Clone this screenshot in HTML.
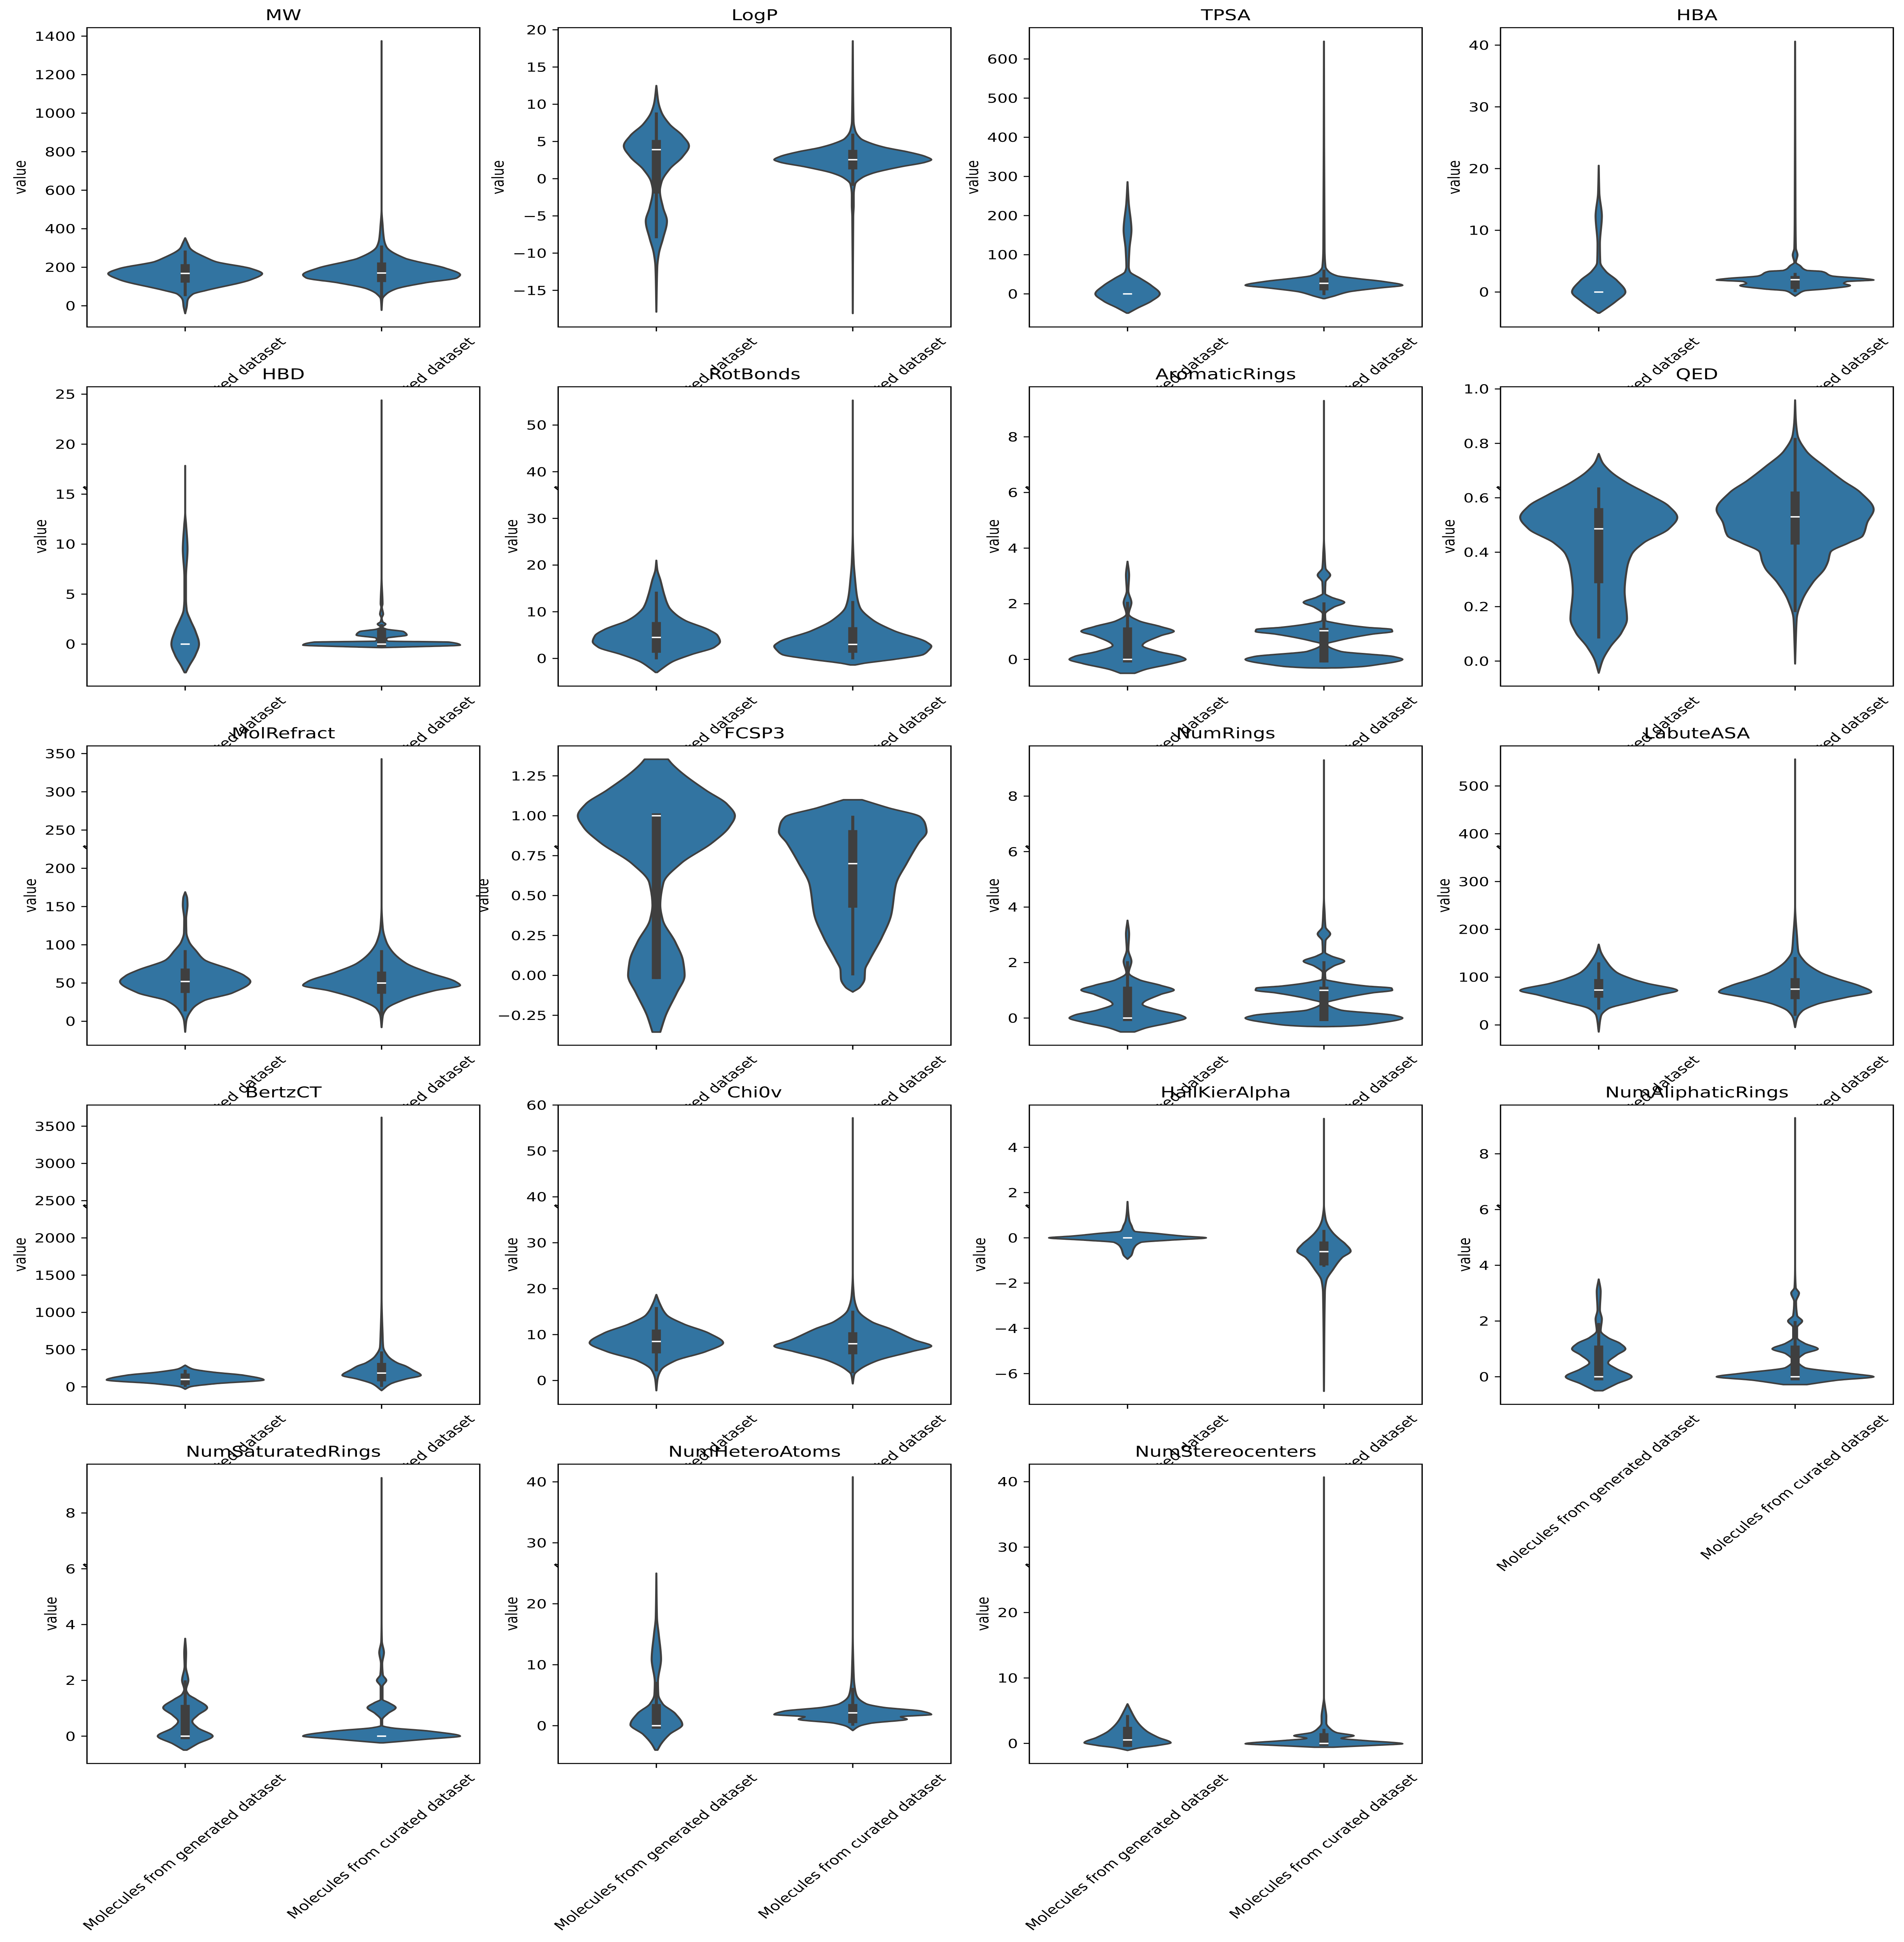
<!DOCTYPE html>
<html lang="en">
<head>
<meta charset="utf-8">
<title>Molecular property violin plots</title>
<style>
html,body{margin:0;padding:0;background:#fff;width:100%;height:100%;overflow:hidden;}
svg{display:block;width:100vw;height:100vh;}
text{font-family:"DejaVu Sans","Liberation Sans",sans-serif;fill:#000;}
</style>
</head>
<body>
<svg id="chart" xmlns="http://www.w3.org/2000/svg" viewBox="0 0 4903 6462" preserveAspectRatio="none">
<rect x="0" y="0" width="4903" height="6462" fill="#ffffff"/>
</svg>
<script>
const categories = ['Molecules from generated dataset', 'Molecules from curated dataset'];
const panelTitles = ['MW','LogP','TPSA','HBA','HBD','RotBonds','AromaticRings','QED','MolRefract','FCSP3','NumRings','LabuteASA','BertzCT','Chi0v','HallKierAlpha','NumAliphaticRings','NumSaturatedRings','NumHeteroAtoms','NumStereocenters'];

/* y-axis limits */
const mwLimits=[-110,1444], logpLimits=[-19.92,20.29], tpsaLimits=[-84.5,680], hbaLimits=[-5.66,42.83], hbdLimits=[-4.2,25.74], rotLimits=[-5.93,58.2], aroLimits=[-0.96,9.8], qedLimits=[-0.092,1.008], mrLimits=[-31.3,360], fcspLimits=[-0.4375,1.4375], ringLimits=[-0.98,9.81], asaLimits=[-42.4,583.8], bertzLimits=[-235,3784], chiLimits=[-5.2,60], hkaLimits=[-7.36,5.87], aliLimits=[-0.99,9.75], satLimits=[-0.98,9.75], hetLimits=[-6.2,42.9], sterLimits=[-3.07,42.68];

/* y-axis ticks */
const mwTicks=[0,200,400,600,800,1000,1200,1400];
const logpTicks=[-15,-10,-5,0,5,10,15,20];
const tpsaTicks=[0,100,200,300,400,500,600];
const hbaTicks=[0,10,20,30,40];
const hbdTicks=[0,5,10,15,20,25];
const rotTicks=[0,10,20,30,40,50];
const aroTicks=[0,2,4,6,8];
const qedTicks=[0,0.2,0.4,0.6,0.8,1];
const mrTicks=[0,50,100,150,200,250,300,350];
const fcspTicks=[-0.25,0,0.25,0.5,0.75,1,1.25];
const ringTicks=[0,2,4,6,8];
const asaTicks=[0,100,200,300,400,500];
const bertzTicks=[0,500,1000,1500,2000,2500,3000,3500];
const chiTicks=[0,10,20,30,40,50,60];
const hkaTicks=[-6,-4,-2,0,2,4];
const aliTicks=[0,2,4,6,8];
const satTicks=[0,2,4,6,8];
const hetTicks=[0,10,20,30,40];
const sterTicks=[0,10,20,30,40];
const tickDecimals=[0,0,0,0,0,0,0,1,0,2,0,0,0,0,0,0,0,0,0];

/* violin profiles: [value, relative density] */
const mwGen=[[352,0],[326,.03],[300,.06],[242,.31],[229,.39],[193,.84],[167,.98],[136,.84],[80,.27],[61,.1],[28,.03],[-4,.02],[-40,0]];
const mwCur=[[1375,0],[500,0],[424,.012],[346,.03],[307,.06],[245,.31],[232,.43],[197,.8],[161,1],[145,.96],[119,.55],[87,.18],[61,.06],[35,.01],[-23,0]];
const logpGen=[[12.5,0],[10.3,.025],[8.9,.066],[7.3,.17],[5.8,.33],[4.4,.415],[2.9,.33],[1.3,.17],[-.44,.066],[-1.6,.045],[-3.9,.086],[-5.7,.135],[-8,.086],[-10,.033],[-11.8,.012],[-17.9,0]];
const logpCur=[[18.5,0],[7.7,.01],[6.5,.03],[5.4,.1],[4.8,.22],[4.2,.41],[3.6,.7],[3,.92],[2.55,1],[2.2,.92],[1.6,.61],[.72,.25],[.14,.12],[-.73,.03],[-2.2,.012],[-3.6,.012],[-5.1,.006],[-18.1,0]];
const tpsaGen=[[286,0],[233,.015],[163,.05],[116,.025],[69,.015],[57,.03],[40,.16],[22,.3],[0,.41],[-19,.3],[-36,.13],[-49,.01]];
const tpsaCur=[[645,0],[116,.008],[69,.02],[57,.06],[46,.17],[39,.43],[32,.74],[22,1],[15,.7],[5,.31],[-6,.12],[-12,.01]];
const hbaGen=[[20.5,0],[16,.008],[12.3,.04],[7.8,.015],[4.8,.02],[3.35,.09],[1.9,.23],[0,.34],[-1.5,.22],[-2.8,.08],[-3.4,.01]];
const hbaCur=[[40.6,0],[12.3,.005],[7.1,.01],[6,.03],[4.8,.01],[4.3,.06],[3.5,.15],[3.35,.33],[2.6,.47],[2.15,.9],[1.95,1],[1.7,.66],[1.4,.62],[1.05,.7],[.5,.39],[.2,.12],[-.4,.03],[-.65,0]];
const hbdGen=[[17.85,0],[13.2,0],[11.9,.012],[9.5,.03],[6.7,.01],[4.5,.01],[3.4,.02],[2.35,.07],[1.3,.13],[0,.176],[-1.1,.13],[-2.2,.05],[-2.85,.008]];
const hbdCur=[[24.4,0],[6.7,0],[4,.012],[3.7,.004],[3,.02],[2.6,.002],[2.25,.012],[2,.05],[1.7,.012],[1.5,.06],[1.25,.28],[.9,.32],[.6,.07],[.44,.06],[.3,.08],[.2,.86],[-.1,1],[-.3,.25],[-.35,0]];
const rotGen=[[21,0],[19,.012],[16.9,.05],[13.7,.1],[11,.16],[9.4,.25],[8.1,.37],[6.2,.66],[4.9,.78],[3.6,.81],[2.4,.74],[.85,.45],[-.75,.2],[-2.1,.08],[-3,.01]];
const rotCur=[[55.3,0],[27.6,0],[20.6,.012],[16.9,.03],[13.7,.05],[11,.09],[8.3,.25],[5.9,.53],[3.5,.94],[2.6,1],[1.65,.96],[.85,.9],[-.2,.53],[-1,.16],[-1.4,.03]];
const aroGen=[[3.52,0],[3.03,.02],[2.46,.01],[2.04,.05],[1.63,.015],[1.38,.15],[1.18,.42],[1.01,.59],[.85,.42],[.5,.19],[.29,.38],[.1,.68],[0,.74],[-.15,.57],[-.36,.23],[-.5,.09]];
const aroCur=[[9.3,0],[4.35,0],[3.85,.008],[3.28,.02],[3.03,.08],[2.78,.02],[2.37,.015],[2.24,.09],[2.05,.26],[1.87,.12],[1.63,.015],[1.4,.02],[1.3,.16],[1.15,.55],[1.08,.86],[1,.87],[.91,.62],[.66,.16],[.55,.03],[.29,.21],[.1,.89],[0,1],[-.19,.68],[-.3,.23],[-.31,.01]];
const qedGen=[[.762,0],[.731,.045],[.697,.15],[.655,.36],[.612,.64],[.57,.89],[.528,1],[.485,.89],[.434,.57],[.392,.42],[.341,.36],[.257,.33],[.155,.36],[.104,.29],[.053,.15],[.003,.05],[-.044,0]];
const qedCur=[[.959,0],[.892,.008],[.832,.03],[.773,.14],[.714,.38],[.663,.61],[.62,.83],[.557,1],[.51,.92],[.46,.86],[.434,.68],[.4,.45],[.367,.42],[.341,.38],[.29,.23],[.223,.09],[.155,.02],[.087,.01],[-.01,0]];
const mrGen=[[169,0],[161,.025],[152,.03],[134,.012],[116,.015],[104,.05],[92,.14],[80.7,.24],[67,.6],[60,.75],[52,.83],[37,.6],[27,.24],[16,.09],[1,.015],[-14,0]];
const mrCur=[[343,0],[152,0],[122,.015],[104,.06],[92,.13],[76,.31],[64,.59],[52,.94],[47,1],[40,.67],[28,.28],[16,.06],[7,.015],[-8,0]];
const fcspGen=[[1.354,.15],[1.33,.19],[1.275,.31],[1.16,.63],[1.073,.9],[1,1],[.93,.93],[.83,.71],[.7,.31],[.58,.09],[.44,.05],[.35,.08],[.21,.24],[.09,.34],[0,.36],[-.11,.26],[-.25,.12],[-.355,.05]];
const fcspCur=[[1.1,.12],[1.05,.45],[.993,.86],[.952,.92],[.9,.94],[.83,.84],[.7,.685],[.57,.55],[.38,.49],[.237,.37],[.092,.21],[.035,.157],[-.023,.15],[-.075,.09],[-.104,0]];
const ringGen=[[3.52,0],[3.03,.02],[2.46,.01],[2.04,.05],[1.63,.015],[1.38,.15],[1.18,.42],[1.01,.59],[.85,.42],[.5,.19],[.29,.38],[.1,.68],[0,.74],[-.15,.57],[-.36,.23],[-.5,.09]];
const ringCur=[[9.3,0],[4.35,0],[3.85,.008],[3.28,.02],[3.03,.08],[2.78,.02],[2.37,.015],[2.24,.09],[2.05,.26],[1.87,.12],[1.63,.015],[1.4,.02],[1.3,.16],[1.15,.55],[1.08,.86],[1,.87],[.91,.62],[.66,.16],[.55,.03],[.29,.21],[.1,.89],[0,1],[-.19,.68],[-.3,.23],[-.31,.01]];
const asaGen=[[168.6,0],[154,.025],[135,.09],[111,.22],[96,.43],[87,.62],[72,1],[63,.78],[48,.43],[34,.12],[19,.03],[-14.5,0]];
const asaCur=[[556,0],[250,0],[183,.025],[154,.04],[135,.11],[111,.31],[96,.55],[82,.82],[69,.97],[58,.66],[43,.27],[29,.09],[14,.025],[-5,0]];
const bertzGen=[[290,0],[241,.09],[198,.35],[155,.75],[93,1],[43,.39],[0,.06],[-31,0]];
const bertzCur=[[3618,0],[1218,0],[724,.012],[538,.02],[414,.08],[322,.2],[278,.31],[229,.39],[155,.5],[105,.31],[43,.12],[-49,0]];
const chiGen=[[18.7,0],[16.9,.04],[14.3,.13],[12.3,.35],[10.3,.67],[8.2,.85],[6.3,.63],[4.3,.24],[2.3,.06],[.3,.015],[-2.2,0]];
const chiCur=[[57.2,0],[23.4,0],[18.4,.015],[15.4,.06],[12.8,.24],[11.3,.47],[8.8,.79],[7.5,1],[6.3,.75],[4.3,.31],[2.3,.08],[1.3,.02],[-.7,0]];
const hkaGen=[[1.6,0],[1.16,.008],[.75,.025],[.55,.05],[.29,.09],[.2,.35],[.08,.7],[0,1],[-.1,.55],[-.2,.17],[-.47,.08],[-.77,.05],[-.94,0]];
const hkaCur=[[5.27,0],[1.47,0],[.85,.02],[.55,.05],[.24,.11],[-.06,.2],[-.26,.27],[-.59,.34],[-.88,.23],[-1.38,.12],[-1.9,.03],[-2.4,.012],[-6.78,0]];
const aliGen=[[3.5,0],[3.06,.025],[2.4,.015],[2.07,.04],[1.65,.025],[1.4,.12],[1.2,.27],[1,.34],[.78,.23],[.5,.12],[.28,.23],[0,.42],[-.25,.23],[-.5,.05]];
const aliCur=[[9.29,0],[4,0],[3.2,.008],[3,.05],[2.7,.012],[2.2,.025],[2,.09],[1.77,.025],[1.4,.025],[1.2,.12],[1,.29],[.83,.12],[.58,.03],[.33,.12],[.12,.7],[0,1],[-.12,.55],[-.28,.15]];
const satGen=[[3.5,0],[2.98,.012],[2.5,.008],[2,.04],[1.67,.012],[1.5,.04],[1.32,.14],[1.02,.28],[.75,.16],[.53,.09],[.3,.16],[0,.35],[-.27,.16],[-.5,.02]];
const satCur=[[9.26,0],[4.2,0],[3.4,.004],[3,.03],[2.6,.008],[2.2,.016],[2,.06],[1.78,.012],[1.32,.012],[1.2,.09],[1.02,.18],[.81,.08],[.58,.008],[.38,.008],[.3,.12],[.18,.61],[0,1],[-.1,.61],[-.24,.02]];
const hetGen=[[25,0],[17.7,.008],[15,.03],[10.9,.06],[7.2,.02],[5.1,.025],[3.6,.08],[2,.24],[.16,.33],[-1.4,.17],[-3,.06],[-4,.015]];
const hetCur=[[40.8,0],[15,0],[9.8,.008],[7.5,.015],[5.9,.03],[4.9,.05],[3.6,.17],[3,.39],[2.4,.87],[1.83,1],[1.46,.61],[1.05,.69],[.42,.24],[-.1,.08],[-.78,0]];
const sterGen=[[6.03,0],[5.06,.04],[3.36,.12],[1.9,.24],[.92,.39],[.1,.55],[-.3,.39],[-.68,.15],[-1.07,0]];
const sterCur=[[40.7,0],[7,0],[5.55,.015],[4.1,.03],[3.1,.03],[2.14,.09],[1.65,.16],[1.17,.38],[.78,.22],[.44,.51],[-.05,1],[-.3,.63],[-.58,.12]];

/* inner box: [whisker low, q1, median, q3, whisker high] */
const mwGenBox=[50,120,168,216,287], mwCurBox=[40,123,170,225,313];
const logpGenBox=[-8,-2,3.9,5.2,8.9], logpCurBox=[-.97,1.25,2.55,3.87,6.05];
const tpsaGenBox=[0,0,0,0,0], tpsaCurBox=[-3,9,27,42,62];
const hbaGenBox=[0,0,0,0,0], hbaCurBox=[0,.5,2,2.6,3.1];
const hbdGenBox=[0,0,0,0,0], hbdCurBox=[-.28,-.28,0,1.6,2];
const rotGenBox=[-.2,1.2,4.5,7.8,14.3], rotCurBox=[-.2,1.2,3,6.7,12.3];
const aroGenBox=[-.11,-.11,0,1.15,2.07], aroCurBox=[-.11,-.11,1.03,1.13,2.05];
const qedGenBox=[.083,.286,.486,.562,.638], qedCurBox=[.18,.428,.53,.623,.82];
const mrGenBox=[13,37,52,69,93], mrCurBox=[7,36,50,65,93];
const fcspGenBox=[-.023,-.023,1,1.015,1.015], fcspCurBox=[0,.424,.7,.91,1];
const ringGenBox=[-.11,-.11,0,1.13,2.05], ringCurBox=[-.11,-.11,1,1.13,2.05];
const asaGenBox=[32,57,73,96,131], asaCurBox=[19,54,75,98,142];
const bertzGenBox=[0,25,99,179,229], bertzCurBox=[0,74,185,322,476];
const chiGenBox=[2,5.9,8.5,11.1,16], chiCurBox=[1.6,5.7,8,10.5,15.2];
const hkaGenBox=[0,0,0,0,0], hkaCurBox=[-1.28,-1.22,-.61,-.16,.35];
const aliGenBox=[-.13,-.13,0,1.12,1.93], aliCurBox=[-.13,-.13,0,1.12,2];
const satGenBox=[-.11,-.11,0,1.12,2], satCurBox=[0,0,0,0,0];
const hetGenBox=[-.5,-.5,0,3.56,7.2], hetCurBox=[0,.42,2.1,3.56,6.2];
const sterGenBox=[-.53,-.53,.53,2.53,4.33], sterCurBox=[-.39,-.39,0,1.56,2.24];

const panelLimits=[mwLimits,logpLimits,tpsaLimits,hbaLimits,hbdLimits,rotLimits,aroLimits,qedLimits,mrLimits,fcspLimits,ringLimits,asaLimits,bertzLimits,chiLimits,hkaLimits,aliLimits,satLimits,hetLimits,sterLimits];
const panelTicks=[mwTicks,logpTicks,tpsaTicks,hbaTicks,hbdTicks,rotTicks,aroTicks,qedTicks,mrTicks,fcspTicks,ringTicks,asaTicks,bertzTicks,chiTicks,hkaTicks,aliTicks,satTicks,hetTicks,sterTicks];
const panelViolins=[[mwGen,mwCur],[logpGen,logpCur],[tpsaGen,tpsaCur],[hbaGen,hbaCur],[hbdGen,hbdCur],[rotGen,rotCur],[aroGen,aroCur],[qedGen,qedCur],[mrGen,mrCur],[fcspGen,fcspCur],[ringGen,ringCur],[asaGen,asaCur],[bertzGen,bertzCur],[chiGen,chiCur],[hkaGen,hkaCur],[aliGen,aliCur],[satGen,satCur],[hetGen,hetCur],[sterGen,sterCur]];
const panelBoxes=[[mwGenBox,mwCurBox],[logpGenBox,logpCurBox],[tpsaGenBox,tpsaCurBox],[hbaGenBox,hbaCurBox],[hbdGenBox,hbdCurBox],[rotGenBox,rotCurBox],[aroGenBox,aroCurBox],[qedGenBox,qedCurBox],[mrGenBox,mrCurBox],[fcspGenBox,fcspCurBox],[ringGenBox,ringCurBox],[asaGenBox,asaCurBox],[bertzGenBox,bertzCurBox],[chiGenBox,chiCurBox],[hkaGenBox,hkaCurBox],[aliGenBox,aliCurBox],[satGenBox,satCurBox],[hetGenBox,hetCurBox],[sterGenBox,sterCurBox]];

const NS='http://www.w3.org/2000/svg';
const AXES_W=1011.5, AXES_H=996, COL_PITCH=1213.33, ROW_PITCH=1195, LEFT0=224, TOP0=92;
const TICK_LEN=14.6, TICK_PAD=14.6, SPINE=3.33, TICK_FONT=41.67, TITLE_FONT=50;
const LINE_W=5.2, BOX_W=23.4, WHISK_W=7.8, MED_W=4.7;
const INK='#3f3f3f', FILL='#3274a1';
const svg=document.getElementById('chart');

function mk(tag,attrs,parent){
  const e=document.createElementNS(NS,tag);
  for(const k in attrs){e.setAttribute(k,attrs[k]);}
  parent.appendChild(e);
  return e;
}
function slugify(s){return s.replace(/([a-z0-9])([A-Z])/g,'$1-$2').toLowerCase();}
function fmt(v,d){return v.toFixed(d).replace('-','\u2212');}

/* monotone cubic tangents of density as a function of value */
function tangents(vals,dens){
  const n=vals.length,h=[],d=[],m=new Array(n).fill(0);
  for(let i=0;i<n-1;i++){h[i]=vals[i+1]-vals[i];d[i]=(dens[i+1]-dens[i])/h[i];}
  m[0]=d[0];m[n-1]=d[n-2];
  for(let i=1;i<n-1;i++){
    if(d[i-1]*d[i]<=0){m[i]=0;continue;}
    const a=2*h[i]+h[i-1],b=h[i]+2*h[i-1];
    m[i]=(a+b)/(a/d[i-1]+b/d[i]);
  }
  return {h,m};
}
function violinPath(profile,cat,x,y){
  const pts=profile.slice().sort((p,q)=>p[0]-q[0]);
  const vals=pts.map(p=>p[0]),dens=pts.map(p=>p[1]);
  const {h,m}=tangents(vals,dens);
  const px=(w,side)=>x(cat+side*0.4*w).toFixed(1);
  const py=v=>y(v).toFixed(1);
  let s='M'+px(dens[0],1)+' '+py(vals[0]);
  for(let i=0;i<vals.length-1;i++){
    s+='C'+px(dens[i]+m[i]*h[i]/3,1)+' '+py(vals[i]+h[i]/3)+' '+px(dens[i+1]-m[i+1]*h[i]/3,1)+' '+py(vals[i+1]-h[i]/3)+' '+px(dens[i+1],1)+' '+py(vals[i+1]);
  }
  s+='L'+px(dens[vals.length-1],-1)+' '+py(vals[vals.length-1]);
  for(let i=vals.length-2;i>=0;i--){
    s+='C'+px(dens[i+1]-m[i+1]*h[i]/3,-1)+' '+py(vals[i+1]-h[i]/3)+' '+px(dens[i]+m[i]*h[i]/3,-1)+' '+py(vals[i]+h[i]/3)+' '+px(dens[i],-1)+' '+py(vals[i]);
  }
  return s+'Z';
}

panelTitles.forEach(function(title,idx){
  const col=idx%4,row=Math.floor(idx/4);
  const left=LEFT0+col*COL_PITCH,top=TOP0+row*ROW_PITCH,bottom=top+AXES_H;
  const lim=panelLimits[idx];
  const xScale=function(c){return left+(c+0.5)/2*AXES_W;};
  const yScale=function(v){return bottom-(v-lim[0])/(lim[1]-lim[0])*AXES_H;};
  const slug=slugify(title);

  const g=mk('g',{},svg);
  
  

  const bg=mk('rect',{x:left,y:top,width:AXES_W,height:AXES_H,fill:'#ffffff'},g);
  
  

  [0,1].forEach(function(cat){
    const which=cat===0?'generated':'curated';
    const profile=panelViolins[idx][cat];
    const box=panelBoxes[idx][cat];
    const body=mk('path',{d:violinPath(profile,cat,xScale,yScale),fill:FILL,stroke:INK,'stroke-width':LINE_W,'stroke-linejoin':'round'},g);
    
    
    const cx=xScale(cat);
    if(box[4]!==box[0]){
      const whisk=mk('line',{x1:cx,x2:cx,y1:yScale(box[0]),y2:yScale(box[4]),stroke:INK,'stroke-width':WHISK_W},g);
      
      
    }
    if(box[3]!==box[1]){
      const iqr=mk('line',{x1:cx,x2:cx,y1:yScale(box[1]),y2:yScale(box[3]),stroke:INK,'stroke-width':BOX_W},g);
      
      
    }
    const med=mk('line',{x1:cx-BOX_W/2,x2:cx+BOX_W/2,y1:yScale(box[2]),y2:yScale(box[2]),stroke:'#ffffff','stroke-width':MED_W},g);
    
    
  });

  const spine=mk('rect',{x:left,y:top,width:AXES_W,height:AXES_H,fill:'none',stroke:'#000000','stroke-width':SPINE},g);
  
  

  let maxLabel=0;
  panelTicks[idx].forEach(function(v){
    const ty=yScale(v);
    const t=mk('line',{x1:left-TICK_LEN,x2:left,y1:ty,y2:ty,stroke:'#000000','stroke-width':SPINE},g);
    
    
    const lab=mk('text',{x:left-TICK_LEN-TICK_PAD,y:ty+15.2,'text-anchor':'end','font-size':TICK_FONT},g);
    
    
    lab.textContent=fmt(v,tickDecimals[idx]);
    maxLabel=Math.max(maxLabel,lab.getComputedTextLength());
  });

  const ylx=left-TICK_LEN-TICK_PAD-maxLabel-23;
  const yc=top+AXES_H/2;
  const yl=mk('text',{transform:'translate('+ylx+' '+yc+') rotate(-90)','text-anchor':'middle','font-size':TICK_FONT},g);
  
  
  yl.textContent='value';

  const ttl=mk('text',{x:left+AXES_W/2,y:top-25,'text-anchor':'middle','font-size':TITLE_FONT},g);
  
  
  ttl.textContent=title;

  categories.forEach(function(label,cat){
    const cx=xScale(cat);
    const t=mk('line',{x1:cx,x2:cx,y1:bottom,y2:bottom+TICK_LEN,stroke:'#000000','stroke-width':SPINE},g);
    
    
    const lab=mk('text',{'text-anchor':'middle','font-size':TICK_FONT,x:0,y:11},g);
    
    
    lab.textContent=label;
    const len=lab.getComputedTextLength();
    const H=(len+TICK_FONT)*Math.SQRT1_2;
    lab.setAttribute('transform','translate('+cx+' '+(bottom+TICK_LEN+TICK_PAD+H/2)+') rotate(-45)');
  });
});
</script>
</body>
</html>
